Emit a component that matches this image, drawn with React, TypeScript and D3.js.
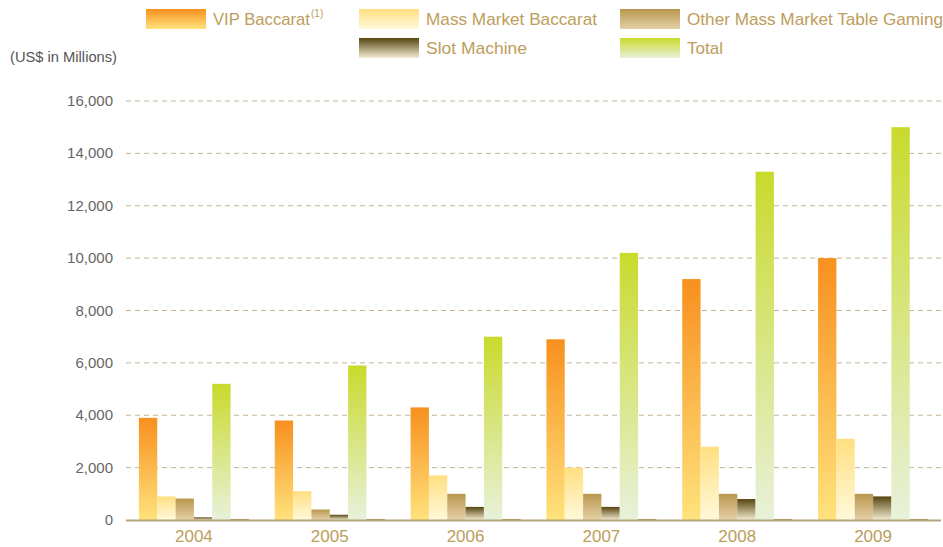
import React from "react";
import * as d3 from "d3";

const years = ["2004", "2005", "2006", "2007", "2008", "2009"];
const vipBaccarat = [3900, 3800, 4300, 6900, 9200, 10000];
const massMarketBaccarat = [900, 1100, 1700, 2000, 2800, 3100];
const otherMassTable = [820, 400, 1000, 1000, 1000, 1000];
const slotMachine = [100, 200, 500, 500, 800, 900];
const total = [5200, 5900, 7000, 10200, 13300, 15000];
const baselineStub = [40, 40, 40, 40, 40, 40];
const yTicks = [0, 2000, 4000, 6000, 8000, 10000, 12000, 14000, 16000];

const seriesKeys = ["vip", "mass", "other", "slot", "total", "stub"];
const seriesValues: Record<string, number[]> = {
  vip: vipBaccarat,
  mass: massMarketBaccarat,
  other: otherMassTable,
  slot: slotMachine,
  total: total,
  stub: baselineStub,
};
const gradients: Record<string, [string, string]> = {
  vip: ["#f7901e", "#ffe27c"],
  mass: ["#ffdf80", "#fff9db"],
  other: ["#b8964c", "#e5d1a8"],
  slot: ["#574510", "#f3ecd2"],
  total: ["#c9da2c", "#e8f1da"],
  stub: ["#a8905a", "#a8905a"],
};

const legendItems = [
  { key: "vip", label: "VIP Baccarat", sup: "(1)", x: 146, y: 9, tl: 97 },
  { key: "mass", label: "Mass Market Baccarat", x: 359, y: 9, tl: 171 },
  { key: "other", label: "Other Mass Market Table Gaming", x: 620, y: 9, tl: 256 },
  { key: "slot", label: "Slot Machine", x: 359, y: 38, tl: 101 },
  { key: "total", label: "Total", x: 620, y: 38, tl: 36 },
];

export default function App() {
  const W = 943;
  const H = 547;
  const left = 126;
  const right = 941;
  const y = d3.scaleLinear().domain([0, 16000]).range([520, 101]);
  const x0 = d3
    .scaleBand<string>()
    .domain(years)
    .range([left, right])
    .paddingInner(0.19)
    .paddingOuter(0.095);
  const x1 = d3
    .scaleBand<string>()
    .domain(seriesKeys)
    .range([0, x0.bandwidth()]);
  const font = "'Liberation Sans', Arial, Helvetica, sans-serif";
  const gold = "#bd9d5b";

  return (
    <svg
      width={W}
      height={H}
      style={{ position: "absolute", left: 0, top: 0, background: "#fff" }}
    >
      <defs>
        {seriesKeys.map((k) => (
          <linearGradient key={k} id={`g-${k}`} x1="0" y1="0" x2="0" y2="1">
            <stop offset="0%" stopColor={gradients[k][0]} />
            <stop offset="100%" stopColor={gradients[k][1]} />
          </linearGradient>
        ))}
      </defs>

      {/* Legend */}
      {legendItems.map((it) => (
        <g key={it.key}>
          <rect x={it.x} y={it.y} width={60} height={20} fill={`url(#g-${it.key})`} />
          <text
            x={it.x + 67}
            y={it.y + 16}
            fontFamily={font}
            fontSize={17}
            fill={gold}
            textLength={it.tl}
            lengthAdjust="spacingAndGlyphs"
          >
            {it.label}
          </text>
          {it.sup && (
            <text x={it.x + 67 + it.tl + 1} y={it.y + 8} fontFamily={font} fontSize={10} fill={gold}>
              {it.sup}
            </text>
          )}
        </g>
      ))}

      <text x={10} y={62} fontFamily={font} fontSize={14} fill="#555" textLength={107} lengthAdjust="spacingAndGlyphs">
        (US$ in Millions)
      </text>

      {/* Grid and y ticks */}
      {yTicks.map((t) => (
        <g key={t}>
          {t > 0 && (
            <line
              x1={left}
              x2={right}
              y1={y(t)}
              y2={y(t)}
              stroke="#c5b595"
              strokeWidth={1}
              strokeDasharray="5,4"
            />
          )}
          <text
            x={113}
            y={y(t) + 5}
            textAnchor="end"
            fontFamily={font}
            fontSize={15}
            fill="#666"
          >
            {d3.format(",")(t)}
          </text>
        </g>
      ))}

      {/* Bars */}
      {years.map((yr, i) => (
        <g key={yr} transform={`translate(${x0(yr)},0)`}>
          {seriesKeys.map((k) => {
            const v = seriesValues[k][i];
            return (
              <rect
                key={k}
                x={x1(k)}
                y={y(v)}
                width={x1.bandwidth()}
                height={y(0) - y(v)}
                fill={`url(#g-${k})`}
              />
            );
          })}
        </g>
      ))}

      {/* Baseline */}
      <line x1={left} x2={right} y1={y(0) + 0.5} y2={y(0) + 0.5} stroke="#b3a47a" strokeWidth={2} />

      {/* X labels */}
      {years.map((yr) => (
        <text
          key={yr}
          x={(x0(yr) as number) + x0.bandwidth() / 2}
          y={542}
          textAnchor="middle"
          fontFamily={font}
          fontSize={17}
          fill={gold}
        >
          {yr}
        </text>
      ))}
    </svg>
  );
}
